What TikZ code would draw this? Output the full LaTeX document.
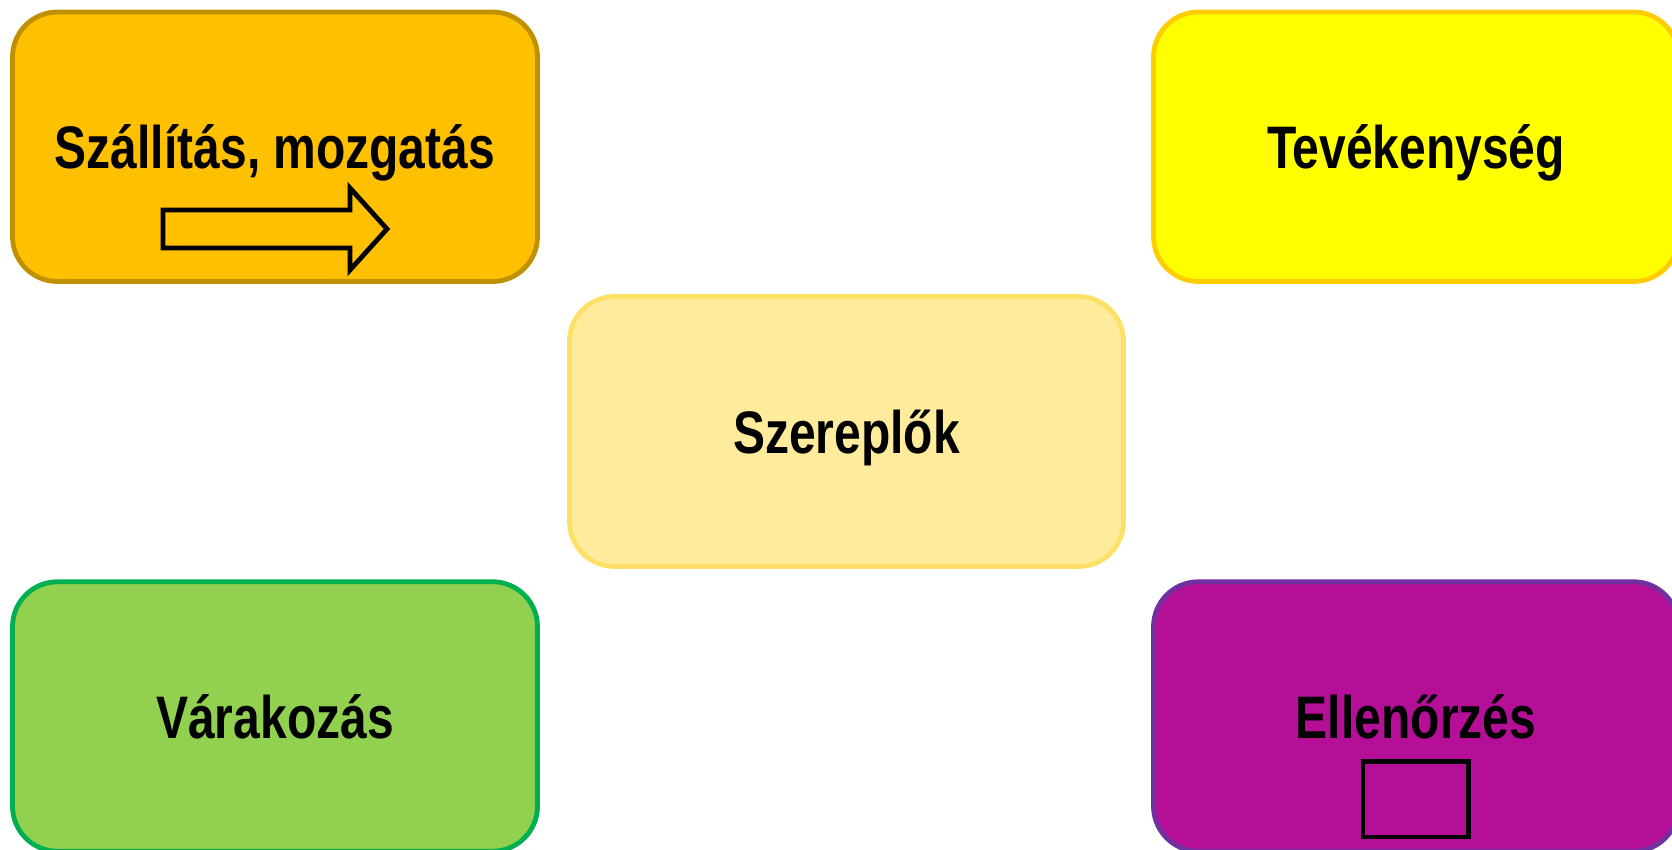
\documentclass[tikz,border=0pt]{standalone}
\usepackage{fontspec}
\setmainfont{Liberation Sans}[FakeStretch=0.8]
\usetikzlibrary{calc}
\definecolor{orfill}{HTML}{FFC000}
\definecolor{ordraw}{HTML}{BF9000}
\definecolor{yefill}{HTML}{FFFF00}
\definecolor{yedraw}{HTML}{FFCC00}
\definecolor{pafill}{HTML}{FFEB9C}
\definecolor{padraw}{HTML}{FFE066}
\definecolor{grfill}{HTML}{92D050}
\definecolor{grdraw}{HTML}{00B050}
\definecolor{pufill}{HTML}{B40F96}
\definecolor{pudraw}{HTML}{7030A0}
\tikzset{
  box/.style={draw, line width=2.4pt, rounded corners=22.5pt, inner sep=0pt,
    minimum width=262.5pt, minimum height=134.75pt,
    font=\fontsize{30}{36}\selectfont\bfseries, text height=21.5pt, text depth=0pt},
  sym/.style={draw=black, line width=2.4pt, miter limit=10}
}
\begin{document}
\begin{tikzpicture}[x=0.5pt, y=-0.5pt]
\useasboundingbox (0,0) rectangle (1672,850);
\node[box, fill=orfill, draw=ordraw] (tl) at (275,146.75) {Szállítás, mozgatás};
\node[box, fill=yefill, draw=yedraw] (tr) at (1416,146.75) {Tevékenység};
\node[box, fill=pafill, draw=padraw, minimum width=277pt, minimum height=135pt] (ce) at (846.5,431.5) {Szereplők};
\node[box, fill=grfill, draw=grdraw] (bl) at (275,716.5) {Várakozás};
\node[box, fill=pufill, draw=pudraw] (br) at (1416,716.5) {Ellenőrzés};
\draw[sym] (163,210) -- (350,210) -- (350,188) -- (387,229) -- (350,270) -- (350,248) -- (163,248) -- cycle;
\draw[sym] (1363,761.5) rectangle (1468.5,837);
\end{tikzpicture}
\end{document}
